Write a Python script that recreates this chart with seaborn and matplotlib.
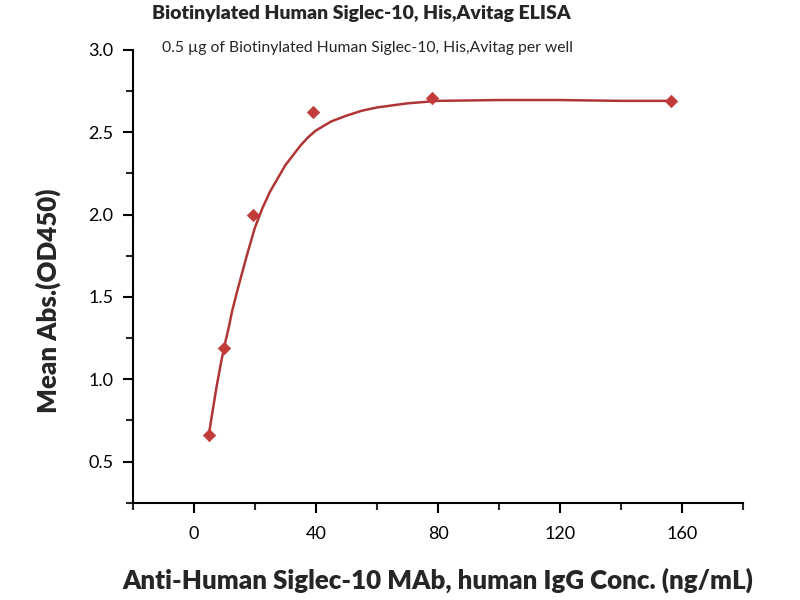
import numpy as np
import pandas as pd
import seaborn as sns
import matplotlib.pyplot as plt
from matplotlib.ticker import MultipleLocator

# measured points
conc = [4.88, 9.77, 19.53, 39.06, 78.13, 156.25]
od450 = [0.66, 1.19, 2.00, 2.62, 2.71, 2.69]

# fitted curve
fit_x = [4.88, 6, 7.5, 9, 10, 11.5, 12.5, 14, 15, 17.5, 20, 22.5, 25, 27.5, 30, 32.5, 35, 37.5,
         40, 45, 50, 55, 60, 70, 80, 100, 120, 140, 156.25]
fit_y = [0.66, 0.79, 0.96, 1.11, 1.20, 1.32, 1.41, 1.52, 1.59, 1.76, 1.92, 2.04, 2.14, 2.22,
         2.30, 2.36, 2.42, 2.47, 2.51, 2.565, 2.60, 2.63, 2.65, 2.675, 2.69, 2.695, 2.695, 2.69, 2.69]

title = "Biotinylated Human Siglec-10, His,Avitag ELISA"
subtitle = "0.5 \u00b5g of Biotinylated Human Siglec-10, His,Avitag per well"
xlabel = "Anti-Human Siglec-10 MAb, human IgG Conc. (ng/mL)"
ylabel = "Mean Abs.(OD450)"

sns.set_style("ticks")
plt.rcParams['font.family'] = ['Lato', 'DejaVu Sans']

df_pts = pd.DataFrame({'conc': conc, 'od': od450})
df_fit = pd.DataFrame({'conc': fit_x, 'od': fit_y})

fig = plt.figure(figsize=(8, 6), dpi=100)
ax = fig.add_axes([0.166, 0.162, 0.763, 0.755])

sns.lineplot(data=df_fit, x='conc', y='od', ax=ax, color='#b03535', linewidth=1.8, sort=False)
sns.scatterplot(data=df_pts, x='conc', y='od', ax=ax, marker='D', s=40,
                color='#c23b3b', edgecolor='#c23b3b', zorder=3)

ax.set_xlim(-20, 180)
ax.set_ylim(0.25, 3.0)
ax.xaxis.set_minor_locator(MultipleLocator(20))
ax.yaxis.set_minor_locator(MultipleLocator(0.25))
ax.set_xticks([0, 40, 80, 120, 160])
ax.set_yticks([0.5, 1.0, 1.5, 2.0, 2.5, 3.0])
ax.set_yticklabels(['0.5', '1.0', '1.5', '2.0', '2.5', '3.0'])

ax.tick_params(which='major', direction='out', length=7, width=1.5, labelsize=13, colors='black')
ax.tick_params(axis='x', which='major', pad=10)
ax.tick_params(axis='y', which='major', pad=7)
ax.tick_params(which='minor', direction='out', length=5, width=1.5)
for side in ['top', 'right']:
    ax.spines[side].set_visible(False)
for side in ['left', 'bottom']:
    ax.spines[side].set_linewidth(1.5)
    ax.spines[side].set_color('black')

ax.set_xlabel(xlabel, fontsize=18.6, fontweight='heavy')
ax.set_ylabel(ylabel, fontsize=18.6, fontweight='heavy')
ax.xaxis.set_label_coords(0.5, -0.142)
ax.yaxis.set_label_coords(-0.118, 0.445)

fig.text(0.452, 0.977, title, ha='center', va='center', fontsize=14, fontweight='heavy')
fig.text(0.459, 0.92, subtitle, ha='center', va='center', fontsize=11.3)

fig.savefig('out.png', dpi=100)
